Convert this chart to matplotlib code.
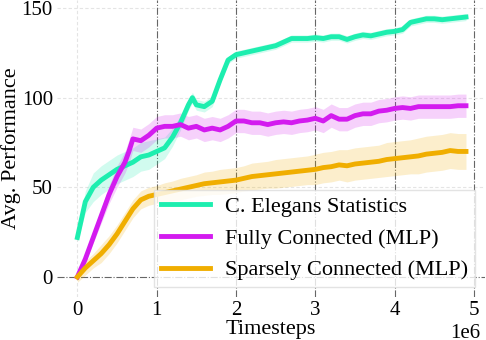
import numpy as np
import matplotlib
matplotlib.use("Agg")
import matplotlib.pyplot as plt

plt.rcParams['font.family'] = ['Liberation Serif', 'DejaVu Serif']

# timesteps in millions
x_green = [0.0, 0.1, 0.2, 0.3, 0.4, 0.5, 0.6, 0.7, 0.8, 0.9, 1.0, 1.1, 1.2, 1.3, 1.4, 1.45,
           1.5, 1.6, 1.7, 1.8, 1.9, 2.0, 2.1, 2.2, 2.3, 2.4, 2.5, 2.6, 2.7, 2.8, 2.9, 3.0,
           3.1, 3.2, 3.3, 3.4, 3.5, 3.6, 3.7, 3.8, 3.9, 4.0, 4.1, 4.2, 4.3, 4.4, 4.5, 4.6,
           4.7, 4.8, 4.9]
y_green = [22, 42, 50, 54, 57, 60, 62, 64, 67, 68, 70, 72, 78, 86, 96, 100,
           96, 95, 98, 110, 121, 124, 125, 126, 127, 128, 129, 131, 133, 133, 133, 133.5,
           133, 134, 134, 132.5, 134, 135, 134.5, 135.5, 136.5, 137, 138, 142, 143, 144, 144, 143.5,
           144, 144.5, 145]
s_green = [2, 6, 8, 8, 8, 8, 8, 8, 8, 8, 7, 6, 5, 4, 3, 3,
           3, 3, 3, 2, 2, 2, 2, 2, 2, 2, 2, 2, 2, 2, 2, 2,
           2, 2, 2, 2, 2, 2, 2, 2, 2, 2, 2, 2, 2, 2, 2, 2,
           2, 2, 2]

x_purple = [0.0, 0.1, 0.2, 0.3, 0.4, 0.5, 0.6, 0.65, 0.7, 0.8, 0.9, 1.0, 1.1, 1.2, 1.3, 1.4,
            1.5, 1.6, 1.7, 1.8, 1.9, 2.0, 2.1, 2.2, 2.3, 2.4, 2.5, 2.6, 2.7, 2.8, 2.9, 3.0,
            3.1, 3.2, 3.3, 3.4, 3.5, 3.6, 3.7, 3.8, 3.9, 4.0, 4.1, 4.2, 4.3, 4.4, 4.5, 4.6,
            4.7, 4.8, 4.9]
y_purple = [0, 10, 22, 34, 46, 56, 64, 70, 77, 76, 79, 83, 84, 84, 85, 83,
            84, 82, 83, 82, 84, 87, 87, 86, 86, 85, 86, 86.5, 86, 87, 87.5, 88.5,
            87, 90, 88, 88, 90, 91, 91, 92.5, 93, 94, 94.5, 94, 95, 95, 95, 95,
            95, 95.5, 95.5]
s_purple = [1, 2, 3, 4, 5, 6, 6, 6.5, 6.5, 6.5, 6.5, 6.5, 6.5, 6.5, 6.5, 6.5,
            6.5, 6.5, 6.5, 6.5, 6.5, 6.5, 6.5, 6.5, 6.5, 6.5, 6.5, 6.5, 6.5, 6.5, 6.5, 6.5,
            6.5, 6.5, 6.5, 6.5, 6.5, 6.5, 6.5, 6.5, 6.5, 6.5, 6.5, 6.5, 6.5, 6.5, 6.5, 6.5,
            6.5, 6.5, 6.5]

x_orange = [0.0, 0.1, 0.2, 0.3, 0.4, 0.5, 0.6, 0.7, 0.8, 0.9, 1.0, 1.1, 1.2, 1.3, 1.4, 1.5,
            1.6, 1.7, 1.8, 1.9, 2.0, 2.1, 2.2, 2.3, 2.4, 2.5, 2.6, 2.7, 2.8, 2.9, 3.0, 3.1,
            3.2, 3.3, 3.4, 3.5, 3.6, 3.7, 3.8, 3.9, 4.0, 4.1, 4.2, 4.3, 4.4, 4.5, 4.6, 4.7,
            4.8, 4.9]
y_orange = [0, 5, 9, 13, 18, 24, 31, 38, 43, 45, 46, 47, 48, 49, 50, 51,
            52, 52.5, 53, 53.5, 54, 55, 56, 56.5, 57, 57.5, 58, 58.5, 59, 59.5, 60, 61,
            61.5, 62.5, 62, 63, 63.5, 64, 64.5, 65.5, 66, 66.5, 67, 67.5, 68.5, 69, 69.5, 70.5,
            70, 70]
s_orange = [3, 4, 4, 5, 5, 5, 5, 5, 5, 5, 5, 5.5, 5.5, 6, 6, 6,
            6.5, 6.5, 7, 7, 7, 7, 7.5, 7.5, 7.5, 8, 8, 8, 8, 8, 8.5, 8.5,
            8.5, 8.5, 9, 9, 9, 9, 9, 9.5, 9.5, 9.5, 9.5, 10, 10, 10, 10, 10,
            10, 10]

series = [
    ("C. Elegans Statistics", x_green, y_green, s_green, "#1DEEAF"),
    ("Fully Connected (MLP)", x_purple, y_purple, s_purple, "#D31BEF"),
    ("Sparsely Connected (MLP)", x_orange, y_orange, s_orange, "#F0AE00"),
]

fig = plt.figure(figsize=(4.86, 3.4), dpi=100)
ax = fig.add_axes([0.1173, 0.1265, 0.8807, 0.8735])

# grid
for yv in [50, 100, 150]:
    ax.axhline(yv, color="#e4e4e4", lw=0.8, ls=(0, (3, 2)), zorder=0)
ax.axhline(0, color="#666666", lw=0.8, ls="-.", zorder=0)
ax.axvline(0, color="#e4e4e4", lw=0.8, ls=(0, (3, 2)), zorder=0)
for xv in [1, 2, 3, 4, 5]:
    ax.axvline(xv * 1e6, color="#666666", lw=0.8, ls="-.", zorder=0)

for label, xs, ys, ss, c in series:
    xs = np.array(xs) * 1e6
    ys = np.array(ys)
    ss = np.array(ss)
    ax.fill_between(xs, ys - ss, ys + ss, color=c, alpha=0.2, lw=0)
    ax.plot(xs, ys, color=c, lw=3.5, label=label)

ax.set_xlim(-0.257e6, 5.14e6)
ax.set_ylim(-11.2, 154.5)
ax.set_xticks([0, 1e6, 2e6, 3e6, 4e6, 5e6])
ax.set_yticks([0, 50, 100, 150])
ax.tick_params(axis="y", length=0, labelsize=15, pad=3)
ax.tick_params(axis="x", length=0, labelsize=15, pad=3)
for sp in ax.spines.values():
    sp.set_visible(False)

ax.set_xlabel("Timesteps", fontsize=16, labelpad=0)
ax.set_ylabel("Avg. Performance", fontsize=16)
ax.yaxis.set_label_coords(-0.085, 0.5)
off = ax.xaxis.get_offset_text()
off.set_fontsize(15)
off.set_x(0.99)

leg = ax.legend(loc="lower right", fontsize=16, handlelength=2.2,
                handletextpad=0.7, labelspacing=0.5, borderpad=0.3,
                borderaxespad=0.45, fancybox=False,
                framealpha=0.8, edgecolor="#dddddd")

fig.savefig("out.png", dpi=100)
